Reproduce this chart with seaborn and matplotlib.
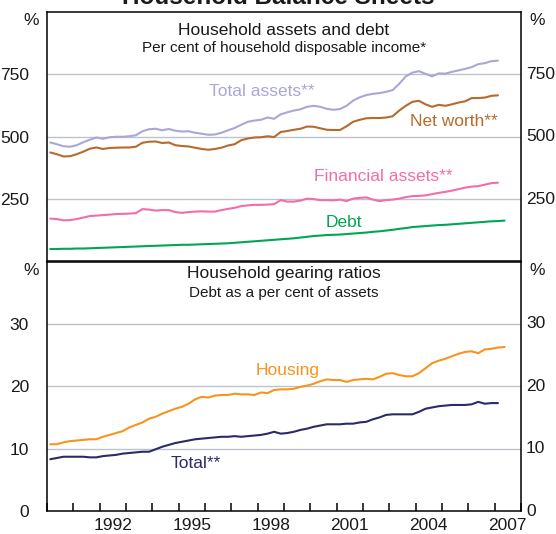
import numpy as np
import pandas as pd
import matplotlib
matplotlib.use("Agg")
import matplotlib.pyplot as plt
import matplotlib.transforms as mtransforms
import seaborn as sns

# ---- data: quarterly, March 1990 onwards -------------------------------
total_assets = [477, 470, 462, 460, 466, 478, 488, 497, 492, 498, 500, 500,
                502, 506, 522, 530, 532, 526, 531, 524, 521, 522, 516, 512,
                508, 509, 516, 526, 535, 548, 560, 565, 568, 577, 572, 590,
                598, 605, 610, 620, 624, 620, 612, 608, 611, 624, 645, 658,
                667, 672, 675, 680, 687, 712, 742, 757, 763, 752, 742, 754,
                753, 760, 766, 772, 779, 791, 795, 803, 805]
net_worth = [437, 430, 421, 422, 430, 440, 452, 457, 451, 455, 456, 457,
             457, 460, 476, 480, 481, 475, 477, 466, 463, 461, 456, 451,
             448, 451, 456, 465, 470, 486, 493, 497, 498, 502, 499, 519,
             523, 528, 532, 541, 540, 534, 528, 527, 527, 542, 560, 568,
             574, 575, 575, 577, 582, 605, 624, 640, 644, 630, 620, 628,
             624, 630, 637, 642, 655, 655, 657, 664, 666]
financial_assets = [172, 170, 165, 166, 170, 176, 182, 184, 186, 188, 190, 191,
                    192, 194, 210, 208, 204, 206, 206, 198, 195, 198, 200, 201,
                    200, 200, 206, 211, 215, 222, 225, 227, 227, 228, 230, 246,
                    240, 240, 244, 252, 250, 246, 246, 245, 248, 242, 252, 255,
                    257, 248, 242, 246, 248, 252, 258, 262, 263, 265, 270, 275,
                    279, 284, 290, 296, 300, 302, 308, 314, 316]
debt = [50, 50, 51, 51, 52, 52, 53, 54, 55, 56, 57, 58,
        59, 60, 61, 62, 63, 64, 65, 66, 67, 67, 68, 69,
        70, 71, 72, 73, 75, 77, 79, 81, 83, 85, 87, 89,
        91, 93, 96, 99, 102, 104, 106, 107, 108, 110, 112, 114,
        116, 119, 121, 124, 127, 131, 134, 138, 140, 142, 144, 146,
        147, 149, 151, 153, 155, 157, 159, 161, 162, 164]

housing_gearing = [10.7, 10.7, 11.0, 11.2, 11.3, 11.4, 11.5, 11.5, 11.9, 12.2, 12.5, 12.8,
                   13.4, 13.8, 14.2, 14.8, 15.1, 15.6, 16.0, 16.4, 16.7, 17.2, 17.9, 18.3,
                   18.2, 18.5, 18.6, 18.6, 18.8, 18.7, 18.7, 18.6, 19.0, 18.9, 19.4, 19.5,
                   19.5, 19.6, 19.9, 20.1, 20.4, 20.8, 21.1, 21.0, 21.0, 20.7, 21.0, 21.1,
                   21.2, 21.1, 21.5, 22.0, 22.1, 21.8, 21.6, 21.6, 22.1, 22.9, 23.7, 24.1,
                   24.4, 24.8, 25.2, 25.5, 25.6, 25.3, 25.9, 26.0, 26.2, 26.3]
total_gearing = [8.3, 8.5, 8.7, 8.7, 8.7, 8.7, 8.6, 8.6, 8.8, 8.9, 9.0, 9.2,
                 9.3, 9.4, 9.5, 9.5, 9.9, 10.3, 10.6, 10.9, 11.1, 11.3, 11.5, 11.6,
                 11.7, 11.8, 11.9, 11.9, 12.0, 11.9, 12.0, 12.1, 12.2, 12.4, 12.7, 12.4,
                 12.5, 12.7, 13.0, 13.2, 13.5, 13.7, 13.9, 13.9, 13.9, 14.0, 14.0, 14.2,
                 14.3, 14.7, 15.0, 15.4, 15.5, 15.5, 15.5, 15.5, 15.9, 16.4, 16.6, 16.8,
                 16.9, 17.0, 17.0, 17.0, 17.1, 17.5, 17.2, 17.3, 17.3]

year_labels = ["1992", "1995", "1998", "2001", "2004", "2007"]
top_ticks = [250, 500, 750]
bottom_ticks = [0, 10, 20, 30]

# quarter mid-points as decimal years
quarters = pd.period_range("1990Q1", "2007Q2", freq="Q")
qx = np.array([p.year + (p.quarter - 1) / 4 + 0.125 for p in quarters])

C_TA = "#aaa6d8"
C_NW = "#b66a2c"
C_FA = "#f26daa"
C_DEBT = "#00a651"
C_HOUS = "#f7941d"
C_TOT = "#2c2a68"
GRID = "#bcc4ca"
INK = "#1a1a1a"

sns.set_theme(style="white")
plt.rcParams["font.family"] = ["Liberation Sans", "DejaVu Sans"]
plt.rcParams["axes.linewidth"] = 1.1

W, H = 556, 534
fig = plt.figure(figsize=(W / 100, H / 100), dpi=100)
L, R = 47 / W, 521 / W
ax1 = fig.add_axes([L, 1 - 261.5 / H, R - L, (261.5 - 12) / H])
ax2 = fig.add_axes([L, 1 - 511 / H, R - L, (511 - 261.5) / H])

LW = 1.5
n1 = len(total_assets)
sns.lineplot(x=qx[:n1], y=total_assets, color=C_TA, lw=LW, ax=ax1)
sns.lineplot(x=qx[:n1], y=net_worth, color=C_NW, lw=LW, ax=ax1)
sns.lineplot(x=qx[:n1], y=financial_assets, color=C_FA, lw=LW, ax=ax1)
sns.lineplot(x=qx[:len(debt)], y=debt, color=C_DEBT, lw=LW, ax=ax1)

sns.lineplot(x=qx[:len(housing_gearing)], y=housing_gearing, color=C_HOUS, lw=LW, ax=ax2)
sns.lineplot(x=qx[:len(total_gearing)], y=total_gearing, color=C_TOT, lw=LW, ax=ax2)

FS = 12.5
right_x = 1 + 5 / 474
for ax, ticks, top in ((ax1, top_ticks, 1000), (ax2, bottom_ticks, 40)):
    ax.set_xlim(1990, 2008)
    ax.set_ylim(0, top)
    ax.set_yticks(ticks)
    ax.set_yticklabels([str(t) for t in ticks])
    for t in ticks:
        if t > 0:
            ax.axhline(t, color=GRID, lw=1.0, zorder=0)
    ax.tick_params(axis="y", left=False, right=False, labelleft=True,
                   labelright=False, pad=7, labelsize=FS, colors=INK)
    # right-hand scale, set closer to the frame than the left one
    trans = mtransforms.blended_transform_factory(ax.transAxes, ax.transData)
    for t in ticks:
        ax.text(right_x, t, str(t), transform=trans, ha="left", va="center",
                fontsize=FS, color=INK)
    ax.set_xlabel("")
    ax.set_ylabel("")
    for s in ax.spines.values():
        s.set_color("black")
        s.set_linewidth(1.1)
    ax.text(-0.017, 0.965, "%", transform=ax.transAxes, ha="right", va="center",
            fontsize=FS, color=INK)
    ax.text(1.017, 0.965, "%", transform=ax.transAxes, ha="left", va="center",
            fontsize=FS, color=INK)

ax1.set_xticks([])
ax1.tick_params(axis="x", bottom=False, labelbottom=False)

# year boundaries as inward ticks, year labels centred in the year
ax2.set_xticks(np.arange(1990, 2009))
ax2.set_xticklabels([])
ax2.set_xticks([int(y) + 0.5 for y in year_labels], minor=True)
ax2.set_xticklabels(year_labels, minor=True)
ax2.tick_params(axis="x", which="major", direction="in", length=6, width=1.1,
                color="black", bottom=True)
ax2.tick_params(axis="x", which="minor", length=0, pad=5, labelsize=FS,
                colors=INK)

# panel headings
ax1.text(0.5, 0.925, "Household assets and debt", transform=ax1.transAxes,
         ha="center", va="center", fontsize=12.5, color=INK)
ax1.text(0.5, 0.855, "Per cent of household disposable income*", transform=ax1.transAxes,
         ha="center", va="center", fontsize=11, color=INK)
ax2.text(0.5, 0.95, "Household gearing ratios", transform=ax2.transAxes,
         ha="center", va="center", fontsize=12.5, color=INK)
ax2.text(0.5, 0.875, "Debt as a per cent of assets", transform=ax2.transAxes,
         ha="center", va="center", fontsize=11, color=INK)

# series labels
ax1.text(1998.16, 681, "Total assets**", color=C_TA, fontsize=FS, ha="center", va="center")
ax1.text(2005.44, 561, "Net worth**", color=C_NW, fontsize=FS, ha="center", va="center")
ax1.text(2002.76, 341, "Financial assets**", color=C_FA, fontsize=FS, ha="center", va="center")
ax1.text(2001.26, 155, "Debt", color=C_DEBT, fontsize=FS, ha="center", va="center")
ax2.text(1999.13, 22.56, "Housing", color=C_HOUS, fontsize=FS, ha="center", va="center")
ax2.text(1995.66, 7.63, "Total**", color=C_TOT, fontsize=FS, ha="center", va="center")

fig.text(0.5, 1 - 3.5 / H, "Household Balance Sheets", ha="center", va="baseline",
         fontsize=17.5, fontweight="bold", color=INK)

fig.savefig("out.png", dpi=100)
